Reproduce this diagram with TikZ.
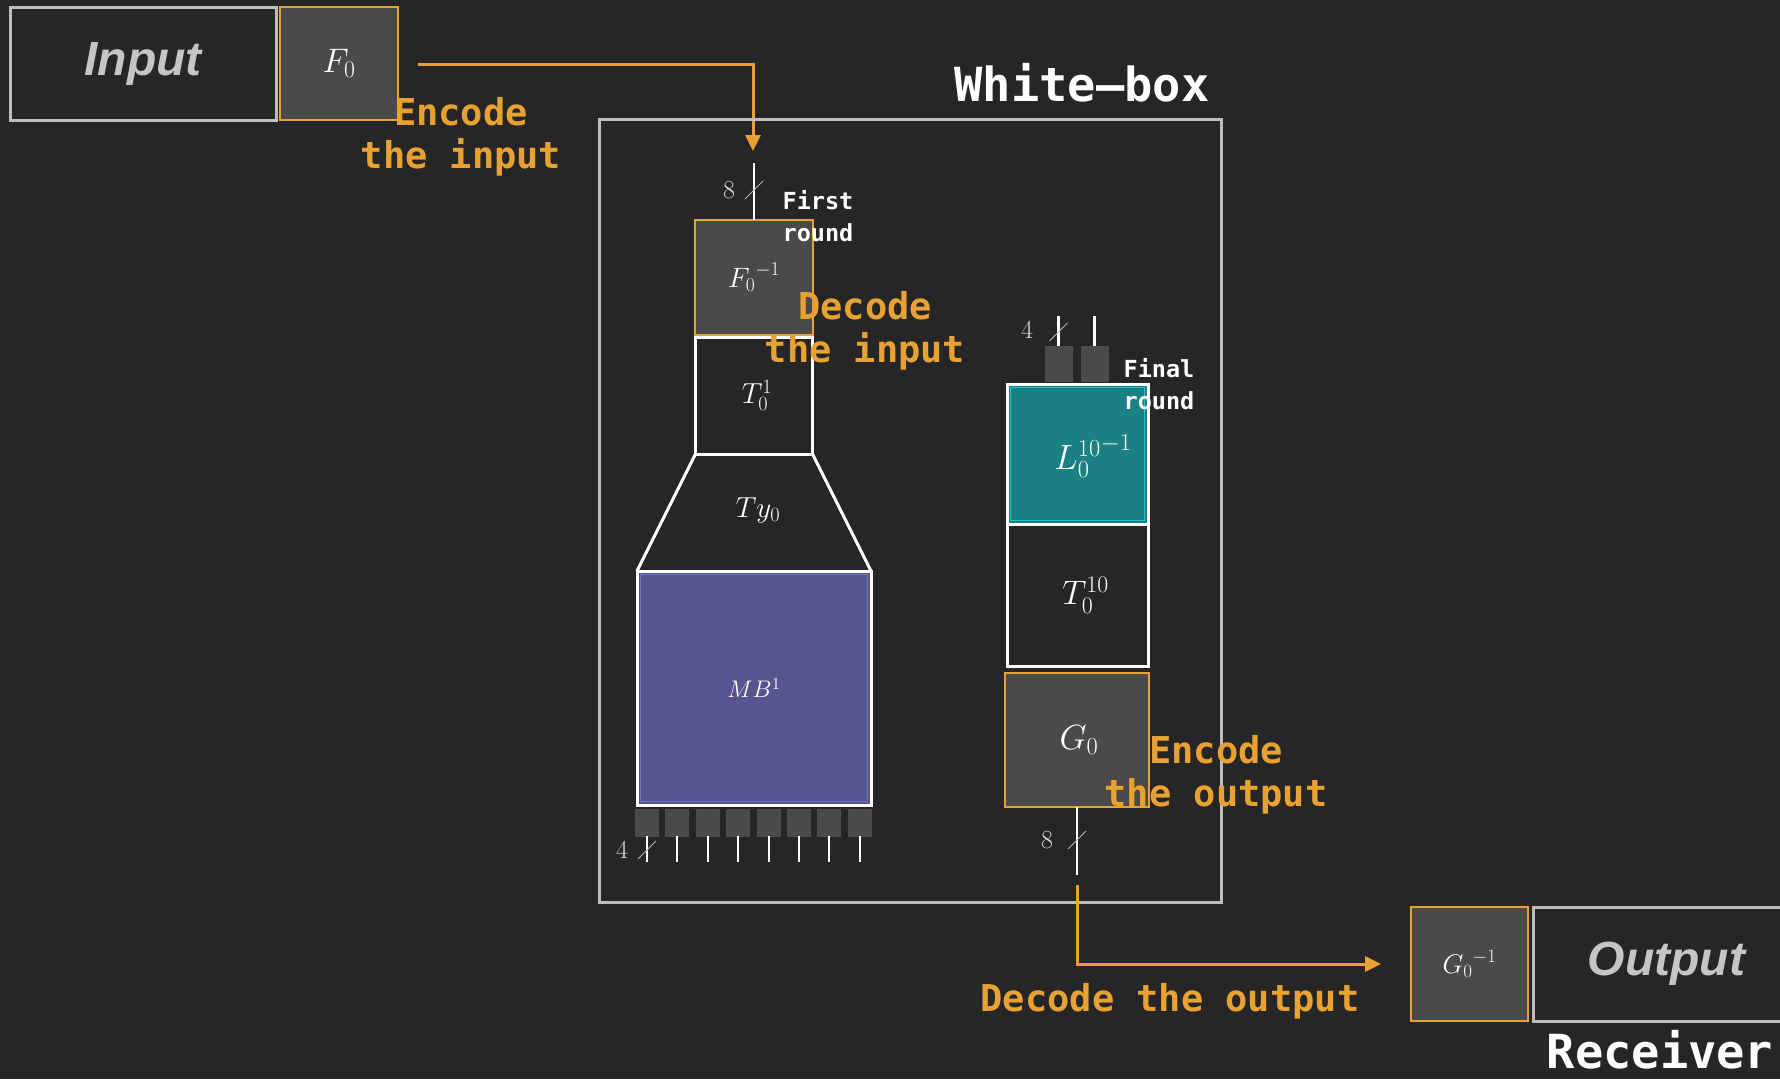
\RequirePackage{fix-cm}
\documentclass[tikz,border=0pt]{standalone}
\usepackage{amsmath}
\usepackage{fontspec}
\setsansfont{Liberation Sans}
\setmonofont{DejaVu Sans Mono}
\usepackage{xcolor}
\usetikzlibrary{arrows.meta}

\definecolor{bgdark}{HTML}{262626}
\definecolor{encorange}{HTML}{E8A133}
\definecolor{boxgray}{HTML}{4A4A4A}
\definecolor{framegray}{HTML}{BEBEBE}
\definecolor{mbpurple}{HTML}{57558F}
\definecolor{mbedge}{HTML}{7472C8}
\definecolor{lteal}{HTML}{1B8083}
\definecolor{ledge}{HTML}{22C3C3}

\begin{document}
\begin{tikzpicture}[
    x=1pt, y=-1pt,
    every node/.style={inner sep=0pt, outer sep=0pt, text=white},
    frame/.style={draw=framegray, line width=3pt},
    codebox/.style={fill=boxgray, draw=encorange, line width=1.2pt},
    tbox/.style={draw=white, line width=3pt},
    pinbox/.style={fill=boxgray, draw=black!70, line width=1pt, minimum width=23, minimum height=27},
    wire/.style={draw=white, line width=2.5pt},
    slash/.style={draw=white!70!black, line width=1pt},
    flow/.style={draw=encorange, line width=3pt, -{Triangle[length=16pt, width=15pt]}},
    note/.style={text=encorange, font=\ttfamily\bfseries\fontsize{37}{43}\selectfont, align=center},
    tag/.style={font=\ttfamily\bfseries\fontsize{23.5}{32}\selectfont, align=left},
    heading/.style={font=\ttfamily\bfseries\fontsize{47}{52}\selectfont},
    iolabel/.style={text=framegray!90!white, font=\sffamily\bfseries\itshape\fontsize{48}{54}\selectfont},
    busnum/.style={text=white!85!black, font=\fontsize{26}{30}\selectfont},
    sym/.style={font=\fontsize{#1}{#1}\selectfont},
]
  \useasboundingbox (0,0) rectangle (1780,1079);
  \fill[bgdark] (0,0) rectangle (1780,1079);

  % Sender side
  \node[frame, iolabel, minimum width=266, minimum height=113] (input) at (143,63.5) {Input};
  \node[codebox, sym=34, minimum width=118, minimum height=113] (F0) at (339,63.5) {$F_0$};
  \coordinate (encstart) at (418,64);
  \coordinate (encend) at (753,151);
  \draw[flow] (encstart) -| (encend);
  \node[note] (enctxt) at (461,137) {Encode\\the input};

  % White-box frame
  \node[frame, minimum width=622, minimum height=783] (wbox) at (910,510.5) {};
  \node[heading] (wbtitle) at (1082,83) {White–box};

  % First round
  \node[codebox, sym=28, minimum width=118, minimum height=115] (F0inv) at (754,277.5) {${F_0}^{-1}$};
  \node[tbox, sym=29, minimum width=117, minimum height=117] (T01) at (754,395.5) {\hspace*{6pt}$T_0^1$};
  \node[tbox, sym=24, fill=mbpurple, minimum width=234, minimum height=234] (MB) at (754,688) {$MB^1$};
  \node[draw=mbedge, line width=1pt, minimum width=227, minimum height=227] (MBinner) at (MB) {};
  \draw[tbox] (T01.south west) -- (MB.north west);
  \draw[tbox] (T01.south east) -- (MB.north east);
  \node[sym=29] (Ty) at (758,510) {$Ty_0$};

  \path (F0inv.north) ++(0,-57) coordinate (inwire);
  \draw[wire] (inwire) -- (F0inv.north);
  \draw[slash] (F0inv.north) ++(-9,-21) -- ++(18,-18);
  \node[busnum] (inw) at (729,190) {$8$};
  \node[tag] (firsttxt) at (818,216) {First\\round};

  \foreach \i in {0,...,7} {
    \node[pinbox] (pin\i) at ({647+30.4*\i},822.5) {};
    \path (pin\i.south) ++(0,26) coordinate (pinend\i);
    \draw[wire, line width=2pt] (pin\i.south) -- (pinend\i);
  }
  \draw[slash] (pin0.south) ++(-9,23) -- ++(18,-18);
  \node[busnum] (pinw) at (622,850) {$4$};

  \node[note] (dectxt) at (865,331) {Decode\\the input};

  % Final round
  \node[pinbox, minimum width=27, minimum height=35] (lpin0) at (1058.5,363.5) {};
  \node[pinbox, minimum width=27, minimum height=35] (lpin1) at (1094.5,363.5) {};
  \path (lpin0.north) ++(0,-30) coordinate (lin0);
  \path (lpin1.north) ++(0,-30) coordinate (lin1);
  \draw[wire] (lin0) -- (lpin0.north);
  \draw[wire] (lin1) -- (lpin1.north);
  \draw[slash] (lpin0.north) ++(-9,-5) -- ++(18,-18);
  \node[busnum] (lw) at (1027,330) {$4$};

  \node[tbox, fill=lteal, minimum width=141, minimum height=140] (Linv) at (1077.5,454) {};
  \node[draw=ledge, line width=1pt, minimum width=134, minimum height=133] (Linner) at (Linv) {};
  \node[sym=35] (Llbl) at (1093,456) {${L_0^{10}}^{-1}$};
  \node[tbox, sym=34, minimum width=141, minimum height=142] (T010) at (1077.5,595) {\hspace*{16pt}$T_0^{10}$};
  \node[codebox, sym=35, minimum width=144, minimum height=134] (G0) at (1077,740) {\hspace*{4pt}$G_0$};
  \node[tag] (finaltxt) at (1159,384) {Final\\round};

  \path (G0.south) ++(0,68) coordinate (outwire);
  \draw[wire] (G0.south) -- (outwire);
  \draw[slash] (G0.south) ++(-9,42) -- ++(18,-18);
  \node[busnum] (outw) at (1047,840) {$8$};
  \node[note] (enctxtout) at (1216,775) {Encode\\the output};

  % Receiver side
  \coordinate (decstart) at (1077,885);
  \coordinate (decend) at (1381,964);
  \draw[flow] (decstart) |- (decend);
  \node[note] (dectxtout) at (1170,1001) {Decode the output};
  \node[codebox, sym=27, minimum width=117, minimum height=114] (G0inv) at (1469.5,964) {${G_0}^{-1}$};
  \node[frame, iolabel, minimum width=267, minimum height=114] (output) at (1666.5,964) {Output};
  \node[heading] (receiver) at (1660,1050) {Receiver};
\end{tikzpicture}
\end{document}
